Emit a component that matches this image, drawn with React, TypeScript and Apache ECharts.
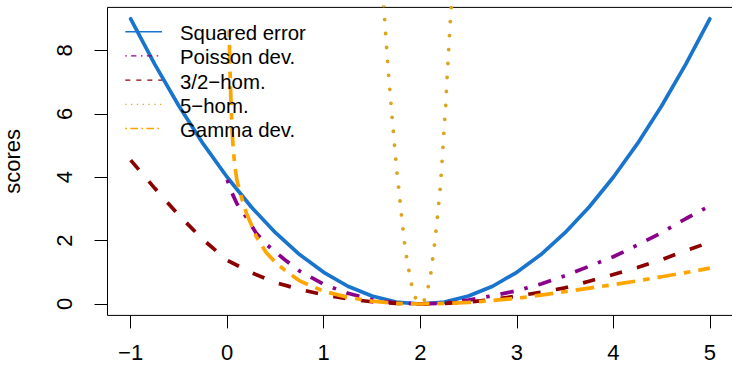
import React, { useEffect, useRef } from "react";
import * as echarts from "echarts";

// Tick values
const xTicks = [-1, 0, 1, 2, 3, 4, 5];
const yTicks = [0, 2, 4, 6, 8];

// Squared error
const sqX = [-1, -0.75, -0.5, -0.25, 0, 0.25, 0.5, 0.75, 1, 1.25, 1.5, 1.75, 2, 2.25, 2.5, 2.75, 3, 3.25, 3.5, 3.75, 4, 4.25, 4.5, 4.75, 5];
const sqY = [9, 7.56, 6.25, 5.06, 4, 3.06, 2.25, 1.56, 1, 0.56, 0.25, 0.06, 0, 0.06, 0.25, 0.56, 1, 1.56, 2.25, 3.06, 4, 5.06, 6.25, 7.56, 9];

// Poisson deviance
const poX = [0, 0.05, 0.1, 0.15, 0.2, 0.25, 0.3, 0.4, 0.5, 0.6, 0.75, 1, 1.25, 1.5, 1.75, 2, 2.25, 2.5, 2.75, 3, 3.25, 3.5, 3.75, 4, 4.25, 4.5, 4.75, 5];
const poY = [3.92, 3.5, 3.17, 2.95, 2.73, 2.48, 2.24, 1.9, 1.64, 1.39, 1.04, 0.62, 0.34, 0.14, 0.035, 0, 0.03, 0.12, 0.26, 0.42, 0.63, 0.89, 1.19, 1.49, 1.86, 2.25, 2.69, 3.1];

// 3/2-homogeneous
const h32X = [-1, -0.75, -0.5, -0.25, 0, 0.25, 0.5, 0.75, 1, 1.25, 1.5, 1.75, 2, 2.25, 2.5, 2.75, 3, 3.25, 3.5, 3.75, 4, 4.25, 4.5, 4.75, 5];
const h32Y = [4.54, 3.65, 2.8, 2.03, 1.38, 0.99, 0.68, 0.46, 0.29, 0.16, 0.07, 0.02, 0, 0.02, 0.06, 0.14, 0.25, 0.37, 0.51, 0.72, 0.93, 1.15, 1.4, 1.68, 1.95];

// 5-homogeneous
const h5X = [1.6, 1.629, 1.67, 1.719, 1.758, 1.774, 1.82, 1.836, 1.857, 1.882, 1.909, 1.95, 1.975, 2.0, 2.02, 2.04, 2.082, 2.11, 2.147, 2.178, 2.207, 2.227, 2.245, 2.265, 2.279, 2.296, 2.313, 2.33];
const h5Y = [10.3, 9.08, 7.3, 5.51, 4.17, 3.73, 2.39, 1.95, 1.51, 1.07, 0.63, 0.2, 0.05, 0, 0.03, 0.1, 0.54, 0.98, 1.86, 2.75, 3.65, 4.54, 5.43, 6.32, 7.21, 8.1, 9.0, 9.75];

// Gamma deviance
const gaX = [0.02, 0.025, 0.03, 0.04, 0.05, 0.065, 0.08, 0.1, 0.15, 0.2, 0.25, 0.3, 0.4, 0.5, 0.6, 0.75, 1, 1.25, 1.5, 1.75, 2, 2.25, 2.5, 2.75, 3, 3.25, 3.5, 3.75, 4, 4.25, 4.5, 4.75, 5];
const gaY = [8.64, 7.9, 7.29, 6.3, 5.5, 4.8, 4.35, 3.91, 3.34, 2.86, 2.5, 2.14, 1.64, 1.31, 1.06, 0.73, 0.4, 0.21, 0.09, 0.02, 0, 0.02, 0.05, 0.11, 0.18, 0.28, 0.39, 0.5, 0.61, 0.73, 0.86, 0.99, 1.13];

const legendNames = ["Squared error", "Poisson dev.", "3/2\u2212hom.", "5\u2212hom.", "Gamma dev."];

const FONT = '"Liberation Sans", Arial, Helvetica, sans-serif';

const pairs = (xs: number[], ys: number[]) => xs.map((x, i) => [x, ys[i]]);

export default function App() {
  const ref = useRef<HTMLDivElement>(null);
  useEffect(() => {
    if (!ref.current) return;
    const chart = echarts.init(ref.current, undefined, { renderer: "svg" });
    const colors = ["#1874CD", "#8B008B", "#8B0000", "#DAA520", "#FFA500"];
    const lw = 3.7;
    const legendRows = [31.7, 55.9, 80.1, 104.3, 128.5];
    const legendDash: any[] = [null, [1.5, 4.3, 5.3, 4.6], [5, 6], [1.2, 4.6], [1.7, 3.3, 7.7, 3.3]];
    const graphics: any[] = [];
    legendNames.forEach((name, i) => {
      const y = legendRows[i];
      graphics.push({
        type: "line",
        z: 100,
        shape: { x1: 125.3, y1: y, x2: 162, y2: y },
        style: { stroke: colors[i], lineWidth: i === 0 ? 1.4 : 1.3, lineDash: legendDash[i] || null },
      });
      graphics.push({
        type: "text",
        z: 100,
        x: 180,
        y: y + 1.4,
        style: {
          text: name,
          fill: "#000",
          fontSize: 20.4,
          fontFamily: FONT,
          align: "left",
          verticalAlign: "middle",
        },
      });
    });

    const mk = (data: number[][], color: string, type: any, cap: string, width: number, z: number) => ({
      type: "line",
      data,
      showSymbol: false,
      symbol: "none",
      silent: true,
      z,
      clip: true,
      lineStyle: { color, width, type, cap, join: "round" },
    });

    chart.setOption({
      animation: false,
      grid: {
        left: 107.5,
        top: 7.4,
        width: 625.5,
        height: 308,
        containLabel: false,
        outerBoundsMode: "none",
        show: true,
        borderColor: "#000",
        borderWidth: 1,
        backgroundColor: "transparent",
      },
      xAxis: {
        type: "value",
        min: -1.24,
        max: 5.24,
        splitLine: { show: false },
        axisLine: { show: false, onZero: false },
        axisTick: { show: true, length: 13, customValues: xTicks, lineStyle: { color: "#000", width: 1 } },
        axisLabel: {
          customValues: xTicks,
          margin: 30.5,
          lineHeight: 14,
          fontSize: 22,
          fontFamily: FONT,
          color: "#000",
          formatter: (v: number) => String(v).replace("-", "\u2212"),
        },
      },
      yAxis: {
        type: "value",
        min: -0.36,
        max: 9.36,
        splitLine: { show: false },
        axisLine: { show: false, onZero: false },
        axisTick: { show: true, length: 13, customValues: yTicks, lineStyle: { color: "#000", width: 1 } },
        axisLabel: {
          customValues: yTicks,
          rotate: 90,
          margin: 32,
          fontSize: 22,
          fontFamily: FONT,
          color: "#000",
        },
        name: "scores",
        nameLocation: "middle",
        nameGap: 84.5,
        nameTextStyle: { fontSize: 22, fontFamily: FONT, color: "#000" },
      },
      series: [
        mk(pairs(sqX, sqY), colors[0], "solid", "round", lw, 2),
        mk(pairs(poX, poY), colors[1], [3.5, 11, 13.5, 11], "butt", lw, 3),
        mk(pairs(h32X, h32Y), colors[2], [12.5, 15.5], "butt", lw, 4),
        mk(pairs(h5X, h5Y), colors[3], [0.01, 14], "round", 3.8, 5),
        mk(pairs(gaX, gaY), colors[4], [6.7, 8, 18.7, 8], "butt", lw, 6),
      ],
      graphic: graphics,
    });
    return () => chart.dispose();
  }, []);
  return (
    <div
      ref={ref}
      style={{ position: "fixed", left: 0, top: 0, width: 732, height: 366, background: "#fff" }}
    />
  );
}
